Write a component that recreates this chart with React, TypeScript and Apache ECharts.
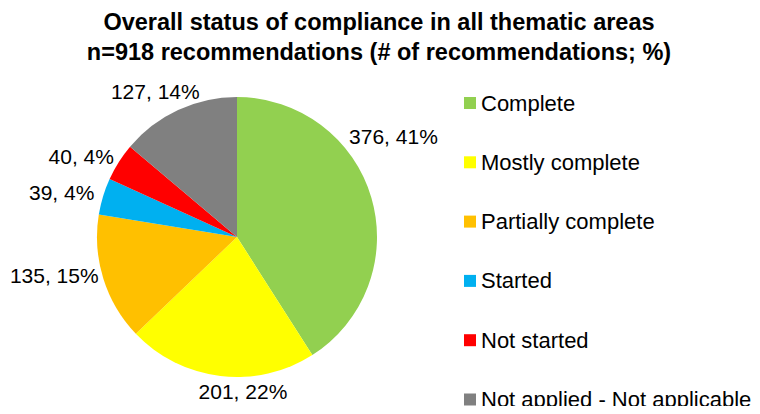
import React, { useEffect, useRef } from "react";
import * as echarts from "echarts";

const categories = [
  "Complete",
  "Mostly complete",
  "Partially complete",
  "Started",
  "Not started",
  "Not applied - Not applicable",
];
const counts = [376, 201, 135, 39, 40, 127];
const colors = ["#92D050", "#FFFF00", "#FFC000", "#00B0F0", "#FF0000", "#808080"];
const titleLines = [
  "Overall status of compliance in all thematic areas",
  "n=918 recommendations (# of recommendations; %)",
];

// label nudges (style only) to mimic the original placement
const labelNudges: [number, number][] = [
  [-35, -59],
  [73, 8],
  [8, -5],
  [4, -2],
  [7, -1],
  [30, -11],
];

const FONT = "'Liberation Sans', Arial, sans-serif";

export default function App() {
  const ref = useRef<HTMLDivElement>(null);
  useEffect(() => {
    if (!ref.current) return;
    const chart = echarts.init(ref.current, undefined, { renderer: "svg" });
    chart.setOption({
      animation: false,
      backgroundColor: "#ffffff",
      title: {
        text: titleLines.join("\n"),
        left: 374,
        top: 2,
        textAlign: "center",
        textStyle: {
          fontFamily: FONT,
          fontWeight: "bold",
          fontSize: 23.5,
          lineHeight: 30,
          color: "#000",
        },
      },
      legend: {
        orient: "vertical",
        left: 459,
        top: 87,
        height: 330,
        icon: "rect",
        itemWidth: 12,
        itemHeight: 12,
        itemGap: 37.3,
        selectedMode: false,
        textStyle: {
          fontFamily: FONT,
          fontSize: 22,
          lineHeight: 22,
          color: "#000",
        },
        data: categories,
      },
      series: [
        {
          type: "pie",
          center: [237, 237],
          radius: 140,
          startAngle: 90,
          clockwise: true,
          avoidLabelOverlap: false,
          data: categories.map((name, i) => ({
            name,
            value: counts[i],
            itemStyle: { color: colors[i] },
          })),
          label: {
            show: true,
            position: "outside",
            fontFamily: FONT,
            fontSize: 21,
            color: "#000",
            formatter: (p: any) => `${p.value}, ${Math.round(p.percent)}%`,
          },
          labelLine: { show: false, length: 8, length2: 0 },
          labelLayout: (p: any) => {
            const n = labelNudges[p.dataIndex] || [0, 0];
            return { dx: n[0], dy: n[1] };
          },
          emphasis: { disabled: true },
        },
      ],
    });
    return () => chart.dispose();
  }, []);
  return <div ref={ref} style={{ width: 760, height: 414, margin: -8 }} />;
}
